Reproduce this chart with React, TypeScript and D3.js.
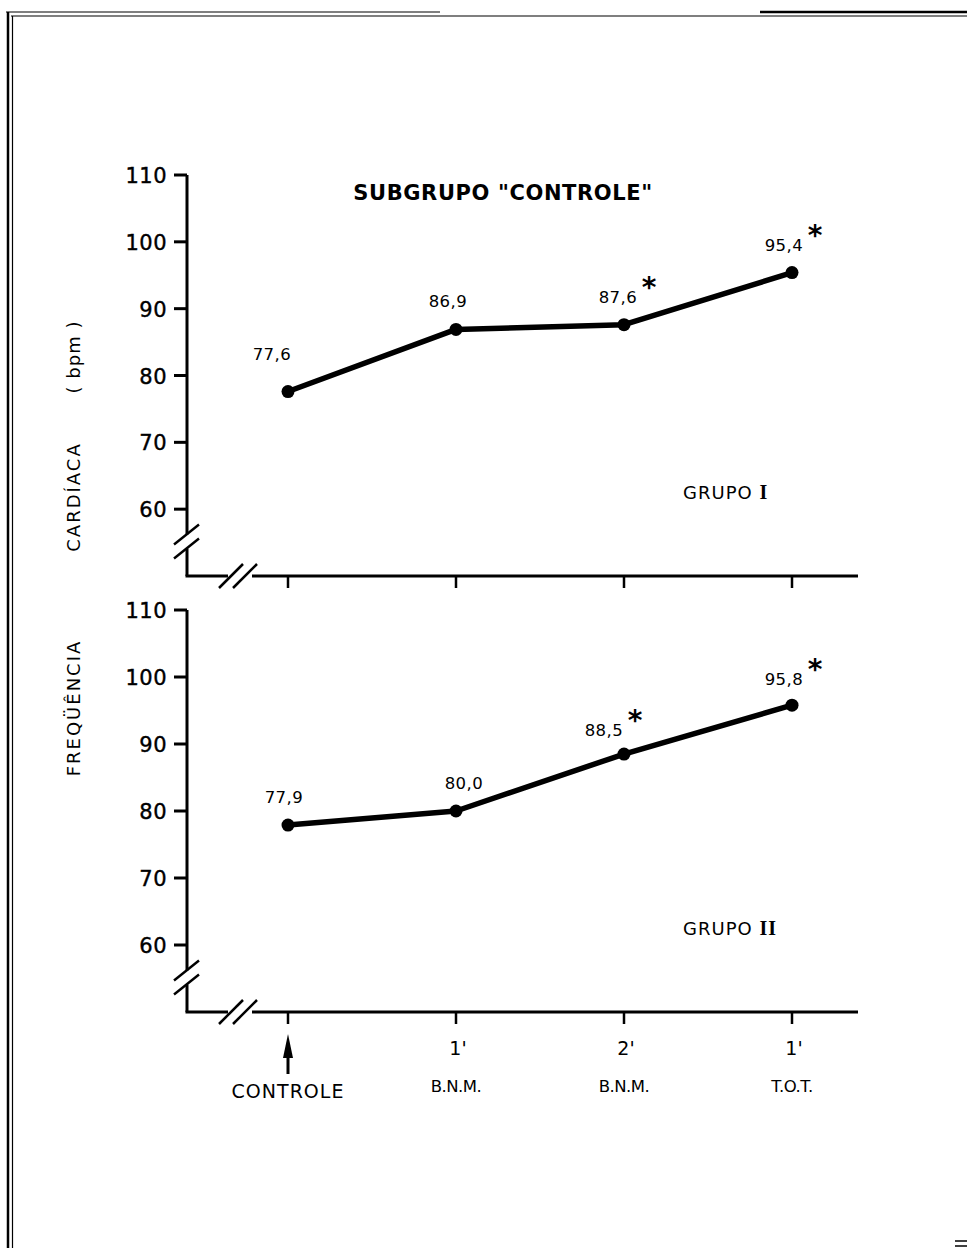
import React from "react";
import * as d3 from "d3";

const categories = ["CONTROLE", "1' B.N.M.", "2' B.N.M.", "1' T.O.T."];
const tickTop = ["", "1'", "2'", "1'"];
const tickBottom = ["CONTROLE", "B.N.M.", "B.N.M.", "T.O.T."];
const grupo1 = [77.6, 86.9, 87.6, 95.4];
const grupo2 = [77.9, 80.0, 88.5, 95.8];
const labels1 = ["77,6", "86,9", "87,6", "95,4"];
const labels2 = ["77,9", "80,0", "88,5", "95,8"];
const stars1 = [false, false, true, true];
const stars2 = [false, false, true, true];
const yTicks = [60, 70, 80, 90, 100, 110];

const W = 967;
const H = 1250;
const axisX = 187;
const axisEnd = 858;

const x = d3.scalePoint<string>().domain(categories).range([288, 792]);

const panels = [
  { values: grupo1, labels: labels1, stars: stars1, y: d3.scaleLinear().domain([50, 110]).range([576, 175]), name: "I",
    labelOff: [[-16, -32], [-8, -22], [-6, -22], [-8, -22]] },
  { values: grupo2, labels: labels2, stars: stars2, y: d3.scaleLinear().domain([50, 110]).range([1012, 610]), name: "II",
    labelOff: [[-4, -22], [8, -22], [-20, -18], [-8, -20]] },
];

const font = "'DejaVu Sans', 'Liberation Sans', sans-serif";

export default function App() {
  const line = (y: d3.ScaleLinear<number, number>) =>
    d3.line<number>().x((_, i) => x(categories[i])!).y((d) => y(d));

  return (
    <svg width={W} height={H} style={{ position: "absolute", left: 0, top: 0, background: "#fff" }}>
      <rect x={0} y={0} width={W} height={H} fill="#fff" />
      {/* page frame */}
      <line x1={8} y1={12} x2={8} y2={1248} stroke="#000" strokeWidth={2.5} />
      <line x1={12.5} y1={16} x2={12.5} y2={1248} stroke="#000" strokeWidth={1.2} />
      <line x1={6} y1={12} x2={440} y2={12} stroke="#000" strokeWidth={1.2} />
      <line x1={11} y1={16} x2={967} y2={16} stroke="#000" strokeWidth={1.2} />
      <line x1={760} y1={12} x2={967} y2={12} stroke="#000" strokeWidth={2.5} />
      <line x1={955} y1={1241} x2={967} y2={1241} stroke="#000" strokeWidth={1.5} />
      <line x1={955} y1={1246} x2={967} y2={1246} stroke="#000" strokeWidth={1.5} />

      {/* title */}
      <text x={503} y={200} textAnchor="middle" fontFamily={font} fontWeight="bold" fontSize={21} letterSpacing={0.6}>
        SUBGRUPO "CONTROLE"
      </text>

      {/* y axis title */}
      <g fontFamily={font} fontSize={18} letterSpacing={2}>
        <text transform={`translate(80,708) rotate(-90)`} textAnchor="middle">FREQÜÊNCIA</text>
        <text transform={`translate(80,497) rotate(-90)`} textAnchor="middle">CARDÍACA</text>
        <text transform={`translate(80,357) rotate(-90)`} textAnchor="middle" letterSpacing={1}>( bpm )</text>
      </g>

      {panels.map((p, pi) => {
        const y = p.y;
        const yTop = y(110);
        const yBase = y(50);
        const breakY = y(55);
        return (
          <g key={pi}>
            {/* y axis with break */}
            <line x1={axisX} y1={yTop} x2={axisX} y2={breakY - 8} stroke="#000" strokeWidth={3} />
            <line x1={axisX} y1={breakY + 6} x2={axisX} y2={yBase} stroke="#000" strokeWidth={3} />
            <line x1={axisX - 13} y1={breakY + 2} x2={axisX + 12} y2={breakY - 18} stroke="#000" strokeWidth={2.5} />
            <line x1={axisX - 13} y1={breakY + 16} x2={axisX + 12} y2={breakY - 4} stroke="#000" strokeWidth={2.5} />
            {/* y ticks */}
            {yTicks.map((t) => (
              <g key={t}>
                <line x1={axisX - 13} y1={y(t)} x2={axisX} y2={y(t)} stroke="#000" strokeWidth={3} />
                <text x={167} y={y(t) + 8} textAnchor="end" fontFamily={font} fontSize={21} letterSpacing={0.5}
                  stroke="#000" strokeWidth={0.4}>
                  {t}
                </text>
              </g>
            ))}
            {/* x axis with break */}
            <line x1={axisX - 1.5} y1={yBase} x2={228} y2={yBase} stroke="#000" strokeWidth={3} />
            <line x1={252} y1={yBase} x2={axisEnd} y2={yBase} stroke="#000" strokeWidth={3} />
            <line x1={219} y1={yBase + 12} x2={243} y2={yBase - 12} stroke="#000" strokeWidth={2.5} />
            <line x1={233} y1={yBase + 12} x2={257} y2={yBase - 12} stroke="#000" strokeWidth={2.5} />
            {categories.map((c) => (
              <line key={c} x1={x(c)} y1={yBase} x2={x(c)} y2={yBase + 12} stroke="#000" strokeWidth={2.5} />
            ))}
            {/* series */}
            <path d={line(y)(p.values) || ""} fill="none" stroke="#000" strokeWidth={5.5} strokeLinejoin="round" />
            {p.values.map((v, i) => (
              <circle key={i} cx={x(categories[i])} cy={y(v)} r={6.5} fill="#000" />
            ))}
            {p.values.map((v, i) => {
              const lx = x(categories[i])! + p.labelOff[i][0];
              const ly = y(v) + p.labelOff[i][1];
              return (
                <g key={"l" + i}>
                  <text x={lx} y={ly} textAnchor="middle" fontFamily={font} fontSize={16.5} letterSpacing={0.5}>
                    {p.labels[i]}
                  </text>
                  {p.stars[i] && (
                    <text x={lx + 31} y={ly - 6} textAnchor="middle" fontFamily={font} fontWeight="bold" fontSize={28}>
                      *
                    </text>
                  )}
                </g>
              );
            })}
            {/* group label */}
            <text x={683} y={y(61.5)} fontFamily={font} fontSize={18} letterSpacing={1}>
              GRUPO{" "}
              <tspan fontFamily="'Liberation Serif', serif" fontWeight="bold" fontSize={20}>
                {p.name}
              </tspan>
            </text>
          </g>
        );
      })}

      {/* bottom x labels */}
      {categories.map((c, i) => (
        <g key={c} fontFamily={font}>
          {tickTop[i] && (
            <text x={x(c)! + 2} y={1055} textAnchor="middle" fontSize={19}>
              {tickTop[i]}
            </text>
          )}
          <text x={x(c)} y={i === 0 ? 1098 : 1092} textAnchor="middle" fontSize={i === 0 ? 19 : 16.5} letterSpacing={i === 0 ? 1 : -0.5}>
            {tickBottom[i]}
          </text>
        </g>
      ))}
      {/* arrow under CONTROLE */}
      <line x1={x(categories[0])} y1={1074} x2={x(categories[0])} y2={1050} stroke="#000" strokeWidth={3} />
      <path d={`M${x(categories[0])},1034 L${x(categories[0])! - 5},1058 L${x(categories[0])! + 5},1058 Z`} fill="#000" />
    </svg>
  );
}
